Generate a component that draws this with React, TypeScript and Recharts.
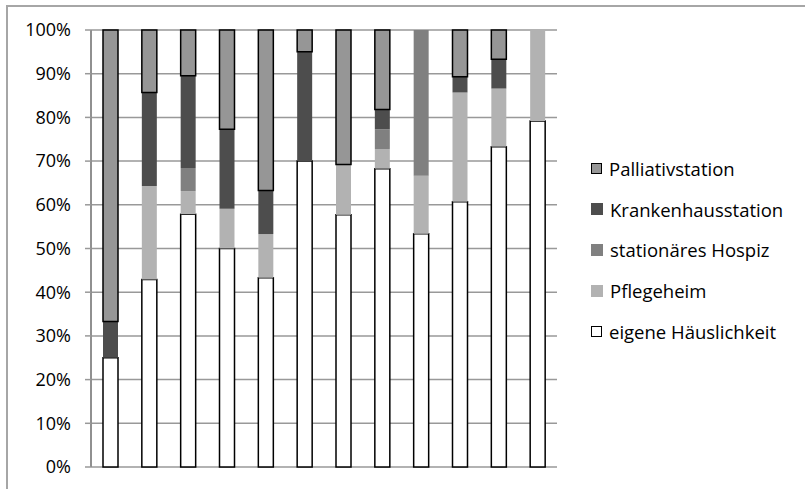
import { BarChart, Bar, XAxis, YAxis, CartesianGrid, Legend } from "recharts"

const categories = ["1", "2", "3", "4", "5", "6", "7", "8", "9", "10", "11", "12"]

// Anteile je Gruppe (Prozent)
const eigene = [25, 42.9, 57.9, 50, 43.3, 70, 57.7, 68.2, 53.3, 60.7, 73.3, 79.2]
const pflegeheim = [0, 21.4, 5.3, 9.1, 10, 0, 11.5, 4.5, 13.3, 25, 13.3, 20.8]
const hospiz = [0, 0, 5.3, 0, 0, 0, 0, 4.5, 33.3, 0, 0, 0]
const kranken = [8.3, 21.4, 21.1, 18.2, 10, 25, 0, 4.5, 0, 3.6, 6.7, 0]
const palliativ = [66.7, 14.3, 10.5, 22.7, 36.7, 5, 30.8, 18.2, 0, 10.7, 6.7, 0]

const yTicks = [0, 0.1, 0.2, 0.3, 0.4, 0.5, 0.6, 0.7, 0.8, 0.9, 1]

const series = [
  { key: "eigene", name: "eigene Häuslichkeit", fill: "#ffffff", stroke: "#000000" },
  { key: "pflegeheim", name: "Pflegeheim", fill: "#b2b2b2", stroke: "none" },
  { key: "hospiz", name: "stationäres Hospiz", fill: "#808080", stroke: "none" },
  { key: "kranken", name: "Krankenhausstation", fill: "#4d4d4d", stroke: "none" },
  { key: "palliativ", name: "Palliativstation", fill: "#969696", stroke: "#000000" },
]

const data = categories.map((c, i) => ({
  name: c,
  eigene: eigene[i],
  pflegeheim: pflegeheim[i],
  hospiz: hospiz[i],
  kranken: kranken[i],
  palliativ: palliativ[i],
}))

const font = "'Open Sans', sans-serif"

function LegendBox() {
  const items = [...series].reverse()
  return (
    <div style={{ fontFamily: font, fontSize: 18.5, color: "#000", paddingLeft: 34 }}>
      {items.map((s) => (
        <div key={s.key} style={{ display: "flex", alignItems: "center", height: 40.8 }}>
          <span
            style={{
              display: "inline-block",
              width: s.stroke === "none" ? 12 : 9,
              height: s.stroke === "none" ? 12 : 9,
              background: s.fill,
              border: s.stroke === "none" ? "none" : "1.5px solid #000",
              marginRight: 7,
            }}
          />
          <span>{s.name}</span>
        </div>
      ))}
    </div>
  )
}

export default function App() {
  return (
    <div style={{ position: "absolute", left: 0, top: 0, width: 805, height: 489, background: "#fff", overflow: "hidden" }}>
      <div
        style={{
          position: "absolute",
          left: 6,
          top: 5,
          width: 820,
          height: 500,
          borderLeft: "2px solid #a6a6a6",
          borderTop: "2px solid #a6a6a6",
        }}
      />
      <BarChart
        width={805}
        height={489}
        data={data}
        stackOffset="expand"
        barSize={15}
        margin={{ top: 30, right: 0, bottom: 22, left: 0 }}
      >
        <CartesianGrid vertical={false} stroke="#999999" strokeWidth={1.5} />
        <XAxis dataKey="name" hide />
        <YAxis
          width={91}
          domain={[0, 1]}
          ticks={yTicks}
          interval={0}
          tickFormatter={(v: number) => `${Math.round(v * 100)}%`}
          tick={{ fontSize: 18, fontFamily: font, fill: "#000" }}
          tickSize={6}
          tickMargin={14}
          axisLine={{ stroke: "#909090", strokeWidth: 2 }}
          tickLine={{ stroke: "#999999", strokeWidth: 1.5 }}
        />
        <Legend
          layout="vertical"
          align="right"
          verticalAlign="middle"
          width={248}
          wrapperStyle={{ width: 248, top: 148, right: 0 }}
          content={() => <LegendBox />}
        />
        {series.map((s) => (
          <Bar
            key={s.key}
            dataKey={s.key}
            name={s.name}
            stackId="a"
            fill={s.fill}
            stroke={s.stroke}
            strokeWidth={1.5}
            isAnimationActive={false}
          />
        ))}
      </BarChart>
    </div>
  )
}
